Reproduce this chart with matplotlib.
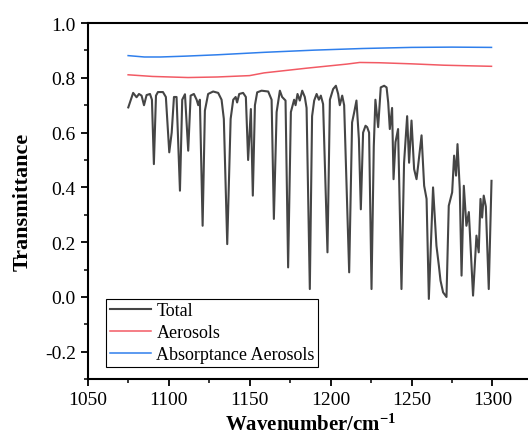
import matplotlib
matplotlib.use('Agg')
import matplotlib.pyplot as plt
from matplotlib.ticker import MultipleLocator, FormatStrFormatter

plt.rcParams['font.family'] = 'Liberation Serif'
plt.rcParams['axes.unicode_minus'] = False
plt.rcParams['mathtext.fontset'] = 'custom'
plt.rcParams['mathtext.rm'] = 'Liberation Serif'
plt.rcParams['mathtext.bf'] = 'Liberation Serif:bold'
plt.rcParams['mathtext.default'] = 'bf'

# Total transmittance spectrum
total_x = [1075.1, 1078.1, 1080.2, 1081.7, 1083.3, 1084.8, 1086.4, 1088.5, 1089.7, 1090.9,
           1092.2, 1093.4, 1096.5, 1098.3, 1100.4, 1101.9, 1103.3, 1104.9, 1107.0, 1108.4,
           1110.1, 1112.1, 1113.6, 1115.6, 1117.3, 1118.3, 1119.3, 1121.0, 1122.4, 1124.4,
           1127.5, 1130.6, 1132.7, 1134.1, 1136.2, 1138.3, 1139.9, 1141.4, 1142.3, 1143.6,
           1146.0, 1147.7, 1149.1, 1150.8, 1152.0, 1153.3, 1154.7, 1157.4, 1161.5, 1163.6,
           1165.0, 1166.7, 1168.7, 1170.1, 1172.2, 1173.8, 1175.5, 1177.5, 1178.4, 1179.6,
           1181.0, 1182.5, 1184.1, 1185.2, 1187.2, 1188.6, 1189.9, 1191.4, 1192.8, 1194.0,
           1195.4, 1198.1, 1199.6, 1201.6, 1203.3, 1204.7, 1205.7, 1207.2, 1208.4, 1211.5,
           1213.3, 1214.6, 1216.0, 1217.5, 1218.7, 1220.1, 1221.6, 1222.6, 1223.8, 1225.3,
           1226.7, 1227.7, 1229.4, 1231.0, 1233.1, 1234.6, 1235.6, 1236.6, 1238.0, 1238.9,
           1240.1, 1241.7, 1243.8, 1245.4, 1247.3, 1248.5, 1250.0, 1251.6, 1253.1, 1254.1,
           1256.2, 1257.8, 1259.3, 1260.7, 1263.3, 1265.4, 1266.9, 1267.9, 1269.5, 1271.6,
           1273.0, 1275.1, 1276.3, 1277.5, 1278.4, 1279.8, 1280.9, 1282.3, 1283.9, 1285.4,
           1288.0, 1290.1, 1291.5, 1292.6, 1293.6, 1294.6, 1295.9, 1297.7, 1299.4]
total_y = [0.692, 0.745, 0.729, 0.741, 0.735, 0.700, 0.737, 0.741, 0.720, 0.485,
           0.735, 0.748, 0.748, 0.730, 0.528, 0.600, 0.730, 0.730, 0.388, 0.720,
           0.740, 0.534, 0.735, 0.741, 0.720, 0.700, 0.720, 0.260, 0.680, 0.741,
           0.750, 0.745, 0.720, 0.650, 0.193, 0.650, 0.720, 0.730, 0.710, 0.741,
           0.745, 0.730, 0.500, 0.686, 0.370, 0.700, 0.747, 0.753, 0.750, 0.720,
           0.285, 0.675, 0.753, 0.730, 0.717, 0.108, 0.675, 0.720, 0.700, 0.741,
           0.717, 0.753, 0.730, 0.690, 0.029, 0.660, 0.717, 0.741, 0.720, 0.735,
           0.704, 0.163, 0.720, 0.759, 0.771, 0.741, 0.700, 0.735, 0.700, 0.090,
           0.637, 0.674, 0.717, 0.577, 0.320, 0.600, 0.625, 0.620, 0.600, 0.029,
           0.550, 0.720, 0.620, 0.765, 0.771, 0.765, 0.710, 0.613, 0.690, 0.430,
           0.565, 0.613, 0.029, 0.490, 0.660, 0.490, 0.644, 0.467, 0.430, 0.480,
           0.590, 0.406, 0.358, -0.007, 0.400, 0.187, 0.114, 0.060, 0.017, 0.000,
           0.333, 0.382, 0.516, 0.443, 0.558, 0.394, 0.078, 0.406, 0.260, 0.310,
           0.005, 0.224, 0.163, 0.358, 0.290, 0.370, 0.330, 0.029, 0.424]

aer_x = [1075, 1090, 1112, 1130, 1150, 1159, 1185, 1210, 1218, 1230, 1250, 1270, 1284, 1299.4]
aer_y = [0.811, 0.805, 0.801, 0.803, 0.808, 0.818, 0.835, 0.850, 0.856, 0.855, 0.851, 0.846, 0.844, 0.842]

abs_x = [1075, 1085, 1095, 1110, 1130, 1159, 1190, 1220, 1250, 1275, 1299.4]
abs_y = [0.881, 0.876, 0.876, 0.879, 0.884, 0.893, 0.901, 0.907, 0.911, 0.912, 0.911]

fig = plt.figure(figsize=(5.28, 4.35), dpi=100)
ax = fig.add_axes([0.166, 0.126, 0.8434, 0.8188])

ax.plot(total_x, total_y, color='#454545', lw=1.5, label='Total')
ax.plot(aer_x, aer_y, color='#f25a64', lw=1.1, label='Aerosols')
ax.plot(abs_x, abs_y, color='#2f7fec', lw=1.1, label='Absorptance Aerosols')

ax.set_xlim(1050, 1325)
ax.set_ylim(-0.3, 1.0)
ax.xaxis.set_major_locator(MultipleLocator(50))
ax.xaxis.set_minor_locator(MultipleLocator(25))
ax.yaxis.set_major_locator(MultipleLocator(0.2))
ax.yaxis.set_minor_locator(MultipleLocator(0.1))
ax.yaxis.set_major_formatter(FormatStrFormatter('%.1f'))

for s in ax.spines.values():
    s.set_linewidth(1.5)
ax.tick_params(which='major', direction='out', length=5, width=1.3, labelsize=14)
ax.tick_params(which='minor', direction='out', length=3, width=1.1)

ax.set_xlabel('Wavenumber/cm$^{-1}$', fontsize=15, fontweight='bold', labelpad=4)
ax.set_ylabel('Transmittance', fontsize=16, fontweight='bold', labelpad=9)

leg = ax.legend(loc='lower left', bbox_to_anchor=(0.041, 0.034), fontsize=13,
                fancybox=False, framealpha=1, edgecolor='black', handlelength=2.3,
                labelspacing=0.28, borderpad=0.2, handletextpad=0.3, borderaxespad=0)
leg.get_frame().set_linewidth(0.8)

fig.savefig('out.png', dpi=100)
